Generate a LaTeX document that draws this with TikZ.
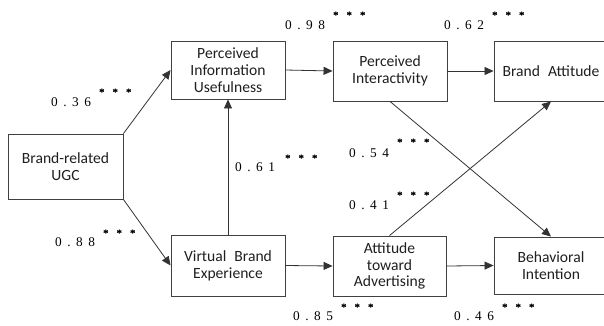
\documentclass[tikz,border=0pt]{standalone}
\usepackage{fontspec}
\setmainfont{Carlito}
\newfontfamily\numfont{Liberation Serif}
\newfontfamily\starfont[FakeBold=1.5]{Liberation Serif}
\usetikzlibrary{arrows.meta}
\tikzset{
  box/.style={draw=black!75, line width=0.9pt, inner sep=0pt, align=center, font=\fontsize{15.6}{16.8}\selectfont, text=black!88},
  arr/.style={draw=black!80, line width=0.8pt, -{Triangle[length=9pt,width=8pt]}},
  num/.style={inner sep=0pt, font=\numfont\fontsize{13.3}{14}\selectfont, text=black, anchor=base west},
  stars/.style={inner sep=0pt, font=\starfont\fontsize{10.5}{11}\selectfont, text=black, anchor=base west}
}
\newcommand\dg[4]{#1\hspace{5.5pt}#2\hspace{5.5pt}#3\hspace{5.5pt}#4}
\newcommand\st{*\hspace{8.2pt}*\hspace{8.2pt}*}
\newcommand\wsp{\hspace{8pt}}
\begin{document}
\begin{tikzpicture}[x=1pt,y=-1pt]
\useasboundingbox (0,0) rectangle (604,325);
\clip (0,0) rectangle (604,325);
% boxes
\node[box, minimum width=115pt, minimum height=65pt] (ugc) at (65.5,166.5) {Brand-related\\UGC};
\node[box, minimum width=114pt, minimum height=58pt] (piu) at (228,70) {Perceived\\Information\\Usefulness};
\node[box, minimum width=114pt, minimum height=60pt] (pi) at (390,71) {Perceived\\Interactivity};
\node[box, minimum width=114pt, minimum height=60pt] (ba) at (551,71) {Brand\wsp Attitude};
\node[box, minimum width=114pt, minimum height=61pt] (vbe) at (228,265.5) {Virtual\wsp Brand\\Experience};
\node[box, minimum width=113pt, minimum height=60pt] (ata) at (389.5,266) {Attitude\\toward\\Advertising};
\node[box, minimum width=114pt, minimum height=57pt] (bi) at (551,265.5) {Behavioral\\Intention};
% connectors
\draw[arr] (ugc.north east) -- (piu.west);
\draw[arr] (ugc.south east) -- (vbe.west);
\draw[arr] (vbe.north) -- (piu.south);
\draw[arr] (piu.east) -- (pi.west);
\draw[arr] (pi.east) -- (ba.west);
\draw[arr] (vbe.east) -- (ata.west);
\draw[arr] (ata.east) -- (bi.west);
\draw[arr] (pi.south) -- (bi.north);
\draw[arr] (ata.north) -- (ba.south);
% labels
\node[num] (l36) at (51,106.5) {\dg0.36}; \node[stars] (s36) at (99,95.5) {\st};
\node[num] (l98) at (285,29.5) {\dg0.98}; \node[stars] (s98) at (333,18.5) {\st};
\node[num] (l62) at (444,29.5) {\dg0.62}; \node[stars] (s62) at (492,18.5) {\st};
\node[num] (l61) at (235,171.5) {\dg0.61}; \node[stars] (s61) at (285,161.5) {\st};
\node[num] (l54) at (349,157) {\dg0.54}; \node[stars] (s54) at (397,145.5) {\st};
\node[num] (l41) at (349,209.5) {\dg0.41}; \node[stars] (s41) at (397,198.5) {\st};
\node[num] (l88) at (55,246.5) {\dg0.88}; \node[stars] (s88) at (103,236.5) {\st};
\node[num] (l85) at (293,320.5) {\dg0.85}; \node[stars] (s85) at (341,310.5) {\st};
\node[num] (l46) at (454,320.5) {\dg0.46}; \node[stars] (s46) at (502,310.5) {\st};
\end{tikzpicture}
\end{document}
